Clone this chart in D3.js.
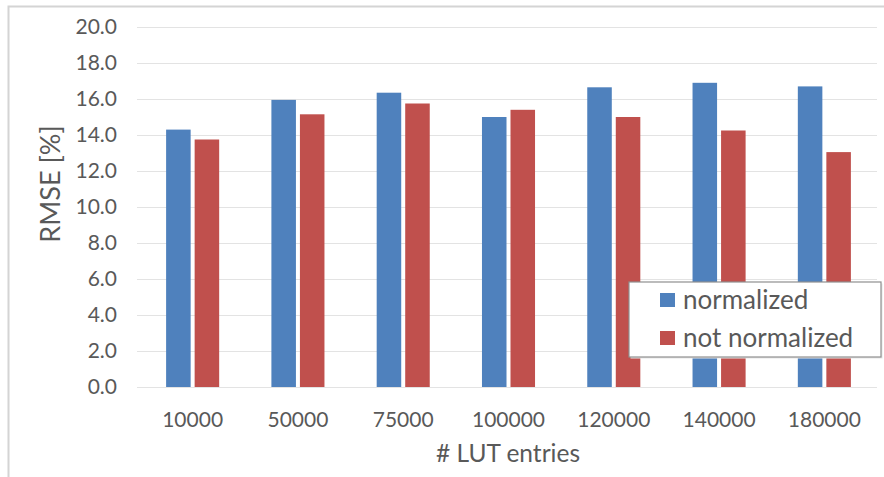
<!DOCTYPE html>
<html>
<head>
<meta charset="utf-8">
<script src="https://cdn.jsdelivr.net/npm/d3@7"></script>
<style>
  html, body { margin: 0; padding: 0; background: #fff; }
  svg { display: block; }
  text { font-family: Lato, "Open Sans", sans-serif; fill: #595959; }
</style>
</head>
<body>
<svg id="chart" width="884" height="477"></svg>
<script>
// LUT sizes on the x axis
const categories = ["10000", "50000", "75000", "100000", "120000", "140000", "180000"];
// RMSE [%] per LUT size
const normalized    = [14.3, 15.95, 16.35, 15.0, 16.65, 16.9, 16.7];
const notNormalized = [13.75, 15.15, 15.75, 15.4, 15.0, 14.25, 13.05];
const seriesNames = ["normalized", "not normalized"];
const seriesColors = ["#4F81BD", "#C0504D"];
const yTicks = [0, 2, 4, 6, 8, 10, 12, 14, 16, 18, 20];

const svg = d3.select("#chart");
const W = 884, H = 477;
const margin = { left: 140, right: 7, top: 27, bottom: 90 };
const plotRight = W - margin.right;
const plotBottom = H - margin.bottom;

// outer chart frame (top and left edges visible)
svg.append("path")
  .attr("d", `M8.5,${H} V6.5 H${W}`)
  .attr("fill", "none")
  .attr("stroke", "#d4d4d4")
  .attr("stroke-width", 2);

const y = d3.scaleLinear().domain([0, 20]).range([plotBottom, margin.top]);
const x0 = d3.scaleBand().domain(categories).range([margin.left, plotRight]).padding(0);
const x1 = d3.scaleBand().domain(seriesNames)
  .range([x0.bandwidth() * 0.248, x0.bandwidth() * 0.752])
  .paddingInner(0.14);

// horizontal gridlines and y tick labels
const yAxis = d3.axisLeft(y).tickValues(yTicks).tickFormat(d3.format(".1f"))
  .tickSize(-(plotRight - margin.left + 3)).tickPadding(20);
const gy = svg.append("g").attr("transform", `translate(${margin.left - 3},0)`).call(yAxis);
gy.select(".domain").remove();
gy.selectAll(".tick line").attr("stroke", "#e3e3e3").attr("stroke-width", 1.2);
gy.selectAll(".tick text").style("font-size", "21px").attr("fill", "#5f5f5f");

// x tick labels
const xAxis = d3.axisBottom(x0).tickSize(0).tickPadding(25);
const gx = svg.append("g").attr("transform", `translate(0,${plotBottom})`).call(xAxis);
gx.select(".domain").remove();
gx.selectAll(".tick text").style("font-size", "21px").attr("fill", "#5f5f5f");

// grouped bars
const rows = categories.map((c, i) => ({ cat: c, vals: [normalized[i], notNormalized[i]] }));
const groups = svg.append("g").selectAll("g").data(rows).join("g")
  .attr("transform", d => `translate(${x0(d.cat)},0)`);
groups.selectAll("rect")
  .data(d => d.vals.map((v, k) => ({ key: seriesNames[k], v, k })))
  .join("rect")
  .attr("x", d => x1(d.key))
  .attr("width", x1.bandwidth())
  .attr("y", d => y(d.v))
  .attr("height", d => y(0) - y(d.v))
  .attr("fill", d => seriesColors[d.k]);

// axis titles
svg.append("text")
  .attr("transform", `translate(60,184) rotate(-90)`)
  .attr("text-anchor", "middle")
  .style("font-size", "27px")
  .attr("fill", "#404040")
  .text("RMSE  [%]");

svg.append("text")
  .attr("x", 508).attr("y", 462)
  .attr("text-anchor", "middle")
  .style("font-size", "24.5px")
  .text("# LUT entries");

// legend
const lg = svg.append("g").attr("transform", "translate(629,282)");
lg.append("rect").attr("x", 1.5).attr("y", 1.5).attr("width", 252).attr("height", 75)
  .attr("fill", "#e6e6e6");
lg.append("rect").attr("width", 252).attr("height", 75)
  .attr("fill", "#fff").attr("stroke", "#8f8f8f").attr("stroke-width", 1.2);
seriesNames.forEach((name, k) => {
  const row = lg.append("g").attr("transform", `translate(31,${11 + k * 38})`);
  row.append("rect").attr("width", 15).attr("height", 14).attr("fill", seriesColors[k]);
  row.append("text").attr("x", 23).attr("y", 15.5)
    .style("font-size", "26px").text(name);
});
</script>
</body>
</html>
